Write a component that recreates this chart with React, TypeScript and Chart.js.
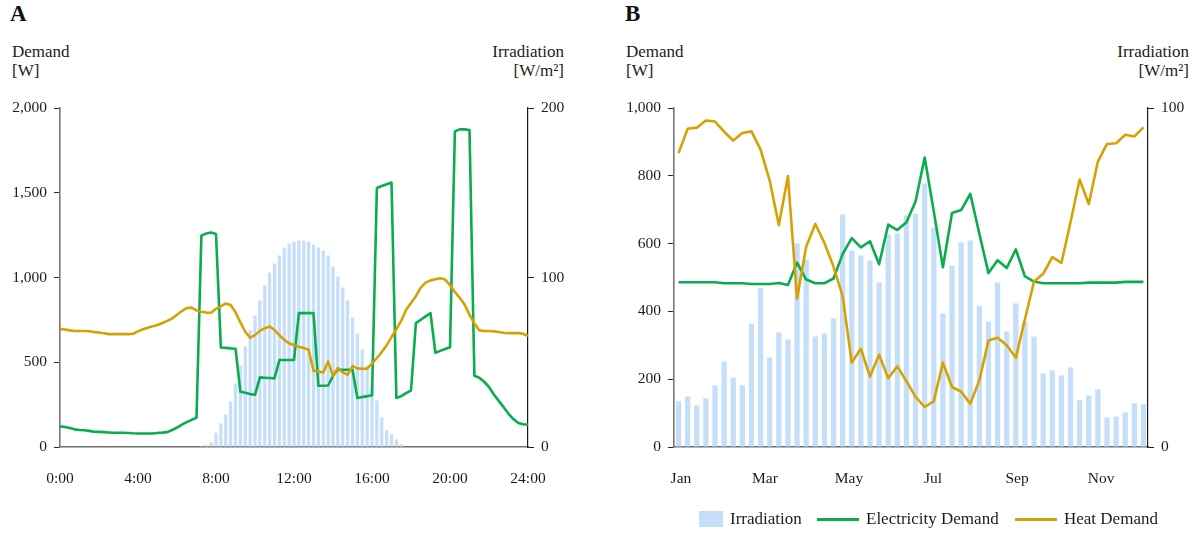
import React, { useEffect, useRef } from 'react';
import { Chart, registerables } from 'chart.js';

Chart.register(...registerables);

const FONT = '"Liberation Serif", "Times New Roman", serif';
const TEXT = '#1c1c1c';
const IRR_COLOR = '#c6dff8';
const ELEC_COLOR = '#0aad4e';
const HEAT_COLOR = '#d6a103';

// ---- Panel A: a single day, 15-minute resolution ----
// irradiation per quarter hour (W/m²), 0:00 … 23:45
const dayIrradiation = [
  0, 0, 0, 0, 0, 0, 0, 0, 0, 0, 0, 0, 0, 0, 0, 0,
  0, 0, 0, 0, 0, 0, 0, 0, 0, 0, 0, 0,
  0.3, 0.5, 1.0, 2.8,
  8.4, 13.9, 19.3, 26.9,
  37.5, 48.1, 59.3, 68.8,
  77.6, 86.4, 95.3, 102.9,
  108.3, 113.0, 117.7, 120.0,
  121.2, 121.8, 121.8, 121.2,
  119.4, 117.7, 115.9, 113.0,
  106.5, 100.6, 94.1, 86.4,
  76.4, 67.0, 57.6, 48.1,
  36.9, 27.5, 17.5, 9.8,
  7.5, 4.5, 1.6, 0,
  0, 0, 0, 0, 0, 0, 0, 0, 0, 0, 0, 0, 0, 0, 0, 0, 0, 0, 0, 0, 0, 0, 0, 0,
];

// electricity demand (W), 0:00 … 24:00
const dayElectricity = [
  122, 118, 112, 104,
  100, 99, 95, 90,
  89, 88, 86, 84,
  84, 84, 83, 81,
  80, 80, 80, 80,
  83, 85, 88, 100,
  115, 132, 147, 160,
  173, 1247, 1260, 1265,
  1257, 587, 585, 582,
  580, 326, 320, 312,
  308, 411, 409, 407,
  405, 513, 513, 513,
  513, 790, 790, 790,
  790, 361, 361, 363,
  420, 456, 456, 456,
  456, 289, 295, 300,
  306, 1528, 1540, 1550,
  1560, 289, 300, 318,
  334, 731, 751, 771,
  790, 556, 567, 578,
  589, 1862, 1874, 1874,
  1870, 420, 409, 385,
  354, 310, 272, 235,
  196, 165, 142, 134,
  132,
];

// heat demand (W), 0:00 … 24:00
const dayHeat = [
  697, 693, 688, 684,
  684, 684, 683, 678,
  676, 671, 666, 666,
  666, 666, 666, 668,
  682, 695, 704, 712,
  720, 732, 744, 758,
  780, 802, 820, 822,
  806, 798, 793, 792,
  815, 830, 847, 838,
  795, 735, 680, 645,
  660, 685, 701, 711,
  690, 660, 632, 612,
  600, 592, 584, 574,
  450, 445, 440, 505,
  420, 466, 440, 426,
  477, 464, 461, 462,
  492, 525, 560, 600,
  648, 695, 745, 810,
  850, 890, 940, 970,
  983, 990, 996, 988,
  955, 915, 880, 840,
  780, 730, 688, 684,
  684, 682, 678, 674,
  672, 672, 672, 668,
  655,
];

// time of day in hours for each quarter-hour slot
const dayHours = Array.from({ length: dayElectricity.length }, (_, k) => k * 0.25);
const dayTickHours = [0, 4, 8, 12, 16, 20, 24];

// ---- Panel B: a year, weekly averages ----
const weekIrradiation = [
  13.5, 14.9, 12.3, 14.3, 18.2, 25.2, 20.5, 18.2, 36.4, 46.8,
  26.4, 33.8, 31.7, 60.0, 55.3, 32.6, 33.5, 37.9, 68.6, 58.0,
  56.5, 55.0, 48.5, 62.7, 63.0, 68.3, 68.9, 77.7, 64.7, 39.4,
  53.5, 60.3, 60.9, 41.7, 37.0, 48.5, 34.1, 42.3, 37.0, 32.6,
  21.7, 22.6, 21.1, 23.5, 13.8, 15.2, 17.0, 8.7, 9.0, 10.2,
  12.9, 12.6,
];

const weekElectricity = [
  486, 486, 486, 486, 486, 483, 483, 483, 481, 481,
  481, 484, 478, 544, 494, 483, 483, 497, 569, 616,
  589, 607, 539, 656, 640, 663, 724, 854, 695, 530,
  690, 699, 747, 629, 513, 551, 528, 583, 503, 488,
  483, 483, 483, 483, 483, 485, 485, 485, 485, 487,
  487, 487,
];

const weekHeat = [
  867, 939, 942, 963, 960, 930, 904, 926, 931, 877,
  786, 654, 799, 438, 591, 658, 602, 532, 445, 249,
  290, 208, 272, 203, 238, 194, 148, 118, 135, 249,
  177, 163, 128, 196, 314, 322, 300, 263, 377, 488,
  511, 560, 543, 663, 789, 717, 842, 894, 896, 921,
  916, 943,
];

const weekIndex = weekIrradiation.map((_, i) => i);
const monthLabels = ['Jan', 'Mar', 'May', 'Jul', 'Sep', 'Nov'];
const monthTickWeeks = [0.26, 9.48, 18.7, 27.92, 37.14, 46.36];

const TICK_FONT = { family: FONT, size: 15.5 };

function leftAxis(max: number, step: number, width: number) {
  return {
    type: 'linear',
    position: 'left',
    min: 0,
    max,
    ticks: {
      stepSize: step,
      padding: 7,
      color: TEXT,
      font: TICK_FONT,
      callback: (v: number) => Number(v).toLocaleString('en-US'),
    },
    grid: { display: true, drawOnChartArea: false, drawTicks: true, tickLength: 6, color: '#2a2a2a', lineWidth: 1 },
    border: { display: true, color: '#777777', width: 1.6 },
    afterFit: (s: any) => { s.width = width; },
  };
}

function rightAxis(max: number, step: number, width: number) {
  return {
    type: 'linear',
    position: 'right',
    min: 0,
    max,
    ticks: {
      stepSize: step,
      padding: 7,
      color: TEXT,
      font: TICK_FONT,
      callback: (v: number) => Number(v).toLocaleString('en-US'),
    },
    grid: { display: true, drawOnChartArea: false, drawTicks: true, tickLength: 6, color: '#1a1a1a', lineWidth: 1 },
    border: { display: true, color: '#1a1a1a', width: 1.2 },
    afterFit: (s: any) => { s.width = width; },
  };
}

function lineSet(label: string, color: string, data: { x: number; y: number }[], order: number) {
  return {
    type: 'line',
    label,
    data,
    yAxisID: 'yL',
    borderColor: color,
    backgroundColor: color,
    borderWidth: 2.6,
    pointRadius: 0,
    tension: 0,
    fill: false,
    borderJoinStyle: 'round',
    order,
  };
}

function configDay(): any {
  return {
    data: {
      datasets: [
        {
          type: 'bar',
          label: 'Irradiation',
          data: dayIrradiation.map((v, k) => ({ x: dayHours[k], y: v })),
          yAxisID: 'yR',
          backgroundColor: IRR_COLOR,
          borderWidth: 0,
          barPercentage: 0.68,
          categoryPercentage: 1,
          order: 3,
        },
        lineSet('Electricity Demand', ELEC_COLOR, dayElectricity.map((v, k) => ({ x: dayHours[k], y: v })), 2),
        lineSet('Heat Demand', HEAT_COLOR, dayHeat.map((v, k) => ({ x: dayHours[k], y: v })), 1),
      ],
    },
    options: {
      responsive: false,
      animation: false,
      layout: { padding: { top: 18, left: 0, right: 0, bottom: 0 } },
      plugins: { legend: { display: false }, tooltip: { enabled: false } },
      scales: {
        x: {
          type: 'linear',
          offset: false,
          min: 0,
          max: 24,
          afterBuildTicks: (s: any) => { s.ticks = dayTickHours.map((h) => ({ value: h })); },
          ticks: {
            autoSkip: false,
            maxRotation: 0,
            padding: 23,
            color: TEXT,
            font: TICK_FONT,
            callback: (v: number) => `${v}:00`,
          },
          grid: { display: false, drawTicks: false, offset: false },
          border: { display: true, color: '#6f6f6f', width: 1.6 },
          afterFit: (s: any) => { s.height = 63; },
        },
        yL: leftAxis(2000, 500, 60),
        yR: rightAxis(200, 100, 72),
      },
    },
  };
}

function configYear(): any {
  return {
    data: {
      datasets: [
        {
          type: 'bar',
          label: 'Irradiation',
          data: weekIrradiation.map((v, i) => ({ x: weekIndex[i], y: v })),
          yAxisID: 'yR',
          backgroundColor: IRR_COLOR,
          borderWidth: 0,
          barPercentage: 0.58,
          categoryPercentage: 1,
          order: 3,
        },
        lineSet('Electricity Demand', ELEC_COLOR, weekElectricity.map((v, i) => ({ x: weekIndex[i], y: v })), 2),
        lineSet('Heat Demand', HEAT_COLOR, weekHeat.map((v, i) => ({ x: weekIndex[i], y: v })), 1),
      ],
    },
    options: {
      responsive: false,
      animation: false,
      layout: { padding: { top: 18, left: 0, right: 0, bottom: 0 } },
      plugins: { legend: { display: false }, tooltip: { enabled: false } },
      scales: {
        x: {
          type: 'linear',
          offset: false,
          min: -0.5,
          max: weekIrradiation.length - 0.5,
          afterBuildTicks: (s: any) => { s.ticks = monthTickWeeks.map((w) => ({ value: w })); },
          ticks: {
            autoSkip: false,
            maxRotation: 0,
            padding: 23,
            color: TEXT,
            font: TICK_FONT,
            callback: (_v: number, i: number) => monthLabels[i],
          },
          grid: { display: false, drawTicks: false, offset: false },
          border: { display: true, color: '#6f6f6f', width: 1.6 },
          afterFit: (s: any) => { s.height = 63; },
        },
        yL: leftAxis(1000, 200, 74),
        yR: rightAxis(100, 100, 53),
      },
    },
  };
}

const wordFont: React.CSSProperties = {
  fontFamily: FONT,
  fontSize: 17,
  color: TEXT,
  lineHeight: '19px',
  position: 'absolute',
  whiteSpace: 'nowrap',
};

const letterFont: React.CSSProperties = {
  fontFamily: FONT,
  fontSize: 23,
  fontWeight: 'bold',
  color: '#111',
  lineHeight: '24px',
  position: 'absolute',
  top: 2,
};

export default function App() {
  const dayRef = useRef<HTMLCanvasElement>(null);
  const yearRef = useRef<HTMLCanvasElement>(null);

  useEffect(() => {
    const day = new Chart(dayRef.current as HTMLCanvasElement, configDay());
    const year = new Chart(yearRef.current as HTMLCanvasElement, configYear());
    return () => {
      day.destroy();
      year.destroy();
    };
  }, []);

  return (
    <div style={{ position: 'absolute', left: 0, top: 0, width: 1201, height: 535, background: '#fff', overflow: 'hidden' }}>
      <div style={{ ...letterFont, left: 10 }}>A</div>
      <div style={{ ...letterFont, left: 625 }}>B</div>

      <div style={{ ...wordFont, left: 12, top: 42 }}>Demand<br />[W]</div>
      <div style={{ ...wordFont, right: 1201 - 564, top: 42, textAlign: 'right' }}>Irradiation<br />[W/m²]</div>
      <div style={{ ...wordFont, left: 626, top: 42 }}>Demand<br />[W]</div>
      <div style={{ ...wordFont, right: 1201 - 1189, top: 42, textAlign: 'right' }}>Irradiation<br />[W/m²]</div>

      <canvas ref={dayRef} width={600} height={420} style={{ position: 'absolute', left: 0, top: 90, width: 600, height: 420 }} />
      <canvas ref={yearRef} width={601} height={420} style={{ position: 'absolute', left: 600, top: 90, width: 601, height: 420 }} />

      <div style={{ position: 'absolute', left: 699, top: 511, width: 24, height: 16, background: IRR_COLOR }} />
      <div style={{ ...wordFont, left: 730, top: 509 }}>Irradiation</div>
      <div style={{ position: 'absolute', left: 817, top: 518, width: 42, height: 3, background: ELEC_COLOR }} />
      <div style={{ ...wordFont, left: 866, top: 509 }}>Electricity Demand</div>
      <div style={{ position: 'absolute', left: 1015, top: 518, width: 42, height: 3, background: HEAT_COLOR }} />
      <div style={{ ...wordFont, left: 1064, top: 509 }}>Heat Demand</div>
    </div>
  );
}
